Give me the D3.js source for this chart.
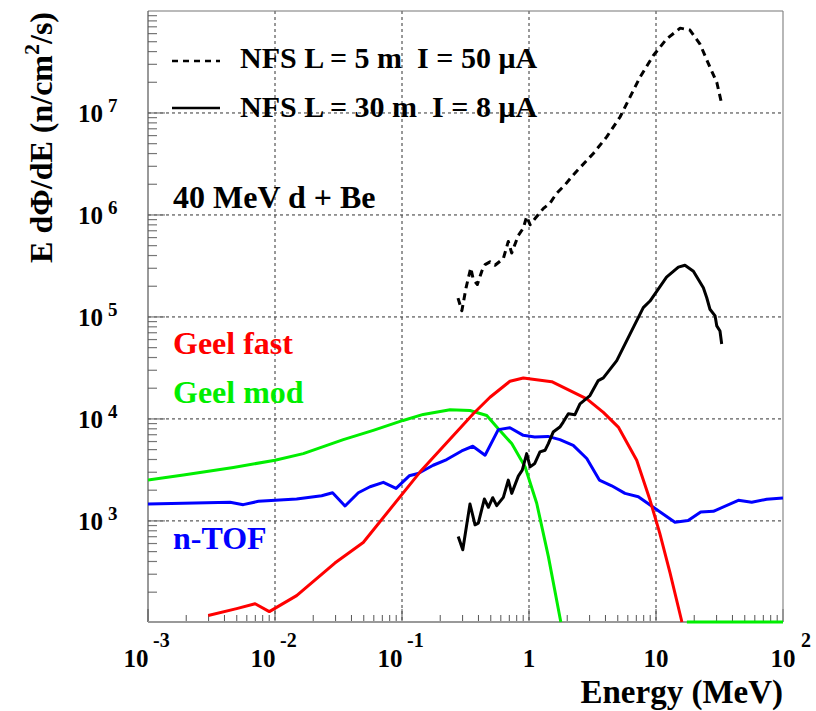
<!DOCTYPE html>
<html>
<head>
	<title> neutron spectra </title>
	<script src="https://d3js.org/d3.v7.min.js"></script>
	<style>
		body { margin: 0; background: #fff; }
		text { font-family: "Liberation Serif", "Times New Roman", serif; font-weight: bold; }
	</style>
</head>
<body>
	<svg width="816" height="711"></svg>
	<script type="text/javascript">
		// x tick labels (base + exponent)
		let xTicks = [1e-3, 1e-2, 1e-1, 1, 10, 100];
		let xTickBase = ["10", "10", "10", "1", "10", "10"];
		let xTickSup = ["-3", "-2", "-1", "", "", "2"];
		let yTicks = [1e3, 1e4, 1e5, 1e6, 1e7];
		let yTickSup = ["3", "4", "5", "6", "7"];

		// NFS L = 5 m (dashed)
		let nfs5E = [0.276, 0.296, 0.319, 0.348, 0.364, 0.392, 0.425, 0.451, 0.493, 0.540, 0.628, 0.687, 0.731, 0.824, 0.902, 0.959, 1.02, 1.15, 1.30, 1.46, 1.65, 1.92, 2.23, 3.21, 4.09, 5.21, 6.24, 7.48, 9.53, 12.1, 15.5, 18.5, 22.2, 26.6, 30.1, 32.9];
		let nfs5Flux = [1.53e5, 1.15e5, 1.92e5, 3.03e5, 2.33e5, 2.08e5, 2.81e5, 3.26e5, 3.47e5, 3.21e5, 3.74e5, 5.5e5, 4.24e5, 6.31e5, 7.43e5, 9.66e5, 8.01e5, 9.66e5, 1.16e6, 1.30e6, 1.63e6, 1.97e6, 2.47e6, 4.01e6, 5.83e6, 9.14e6, 1.43e7, 2.24e7, 3.66e7, 5.31e7, 6.79e7, 6.5e7, 4.74e7, 2.81e7, 2.0e7, 1.23e7];

		// NFS L = 30 m (solid)
		let nfs30E = [0.277, 0.301, 0.343, 0.376, 0.399, 0.445, 0.479, 0.518, 0.557, 0.628, 0.687, 0.731, 0.824, 0.885, 0.959, 1.02, 1.11, 1.22, 1.34, 1.42, 1.55, 1.75, 1.86, 2.04, 2.30, 2.52, 3.02, 3.51, 3.85, 4.91, 6.24, 7.94, 8.97, 12.1, 15.0, 16.9, 19.7, 23.6, 25.1, 26.6, 29.2, 30.1, 31.9, 32.9];
		let nfs30Flux = [703, 521, 1465, 915, 950, 1640, 1360, 1688, 1410, 1703, 2512, 1862, 2748, 3148, 4571, 3388, 3656, 4745, 4932, 5730, 7430, 8320, 9310, 11250, 10990, 14060, 16940, 23770, 25240, 37240, 67740, 123300, 143200, 245500, 307600, 321400, 281200, 193200, 154300, 118900, 102400, 81700, 72900, 54200];

		// Geel fast (red)
		let geelFastE = [0.00298, 0.00499, 0.00697, 0.00902, 0.0148, 0.0296, 0.0495, 0.139, 0.364, 0.493, 0.708, 0.902, 1.51, 2.85, 3.85, 5.05, 7.05, 8.97, 10.7, 12.9, 16.0];
		let geelFastFlux = [118, 138, 154, 129, 185, 386, 614, 3027, 11250, 16300, 23400, 25200, 23200, 15700, 11600, 8320, 3935, 1600, 759, 309, 60];

		// Geel mod (green); null = no point
		let geelModE = [0.001, 0.0019, 0.0047, 0.01, 0.0167, 0.0345, 0.0594, 0.102, 0.147, 0.239, 0.343, 0.465, 0.573, 0.731, 0.931, 1.15, 1.42, 1.78, 5, 17.5, 100];
		let geelModFlux = [2512, 2812, 3342, 3935, 4571, 6266, 7727, 9660, 11070, 12300, 12100, 10800, 8020, 5730, 3390, 1489, 449, 90, null, 50, 50];

		// n-TOF (blue)
		let ntofE = [0.001, 0.00443, 0.00562, 0.0074, 0.0148, 0.0233, 0.0284, 0.0356, 0.0453, 0.056, 0.0713, 0.0898, 0.114, 0.134, 0.176, 0.225, 0.295, 0.361, 0.451, 0.573, 0.708, 0.902, 1.11, 1.41, 1.75, 2.23, 2.85, 3.58, 4.48, 5.70, 7.26, 9.53, 14.1, 17.9, 22.5, 28.3, 44.5, 56.7, 74.4, 100];
		let ntofFlux = [1465, 1521, 1443, 1556, 1640, 1766, 1888, 1400, 1888, 2163, 2388, 2085, 2768, 2919, 3513, 3998, 4853, 5395, 4404, 7850, 8200, 6900, 6640, 6740, 6270, 5510, 4090, 2512, 2210, 1862, 1727, 1360, 971, 1007, 1224, 1243, 1592, 1521, 1629, 1676];

		let svg = d3.select("svg");
		let pL = 148, pR = 783, pT = 11, pB = 622;

		let x = d3.scaleLog().domain([1e-3, 100]).range([pL, pR]);
		let y = d3.scaleLog().domain([102, 1e8]).range([pB, pT]).clamp(true);

		svg.append("clipPath").attr("id", "plot")
			.append("rect").attr("x", pL).attr("y", pT - 2)
			.attr("width", pR - pL).attr("height", pB - pT + 4);

		// grid
		svg.append("g").selectAll("line").data(xTicks.slice(1, -1)).join("line")
			.attr("x1", d => x(d)).attr("x2", d => x(d))
			.attr("y1", pT).attr("y2", pB)
			.attr("stroke", "#333").attr("stroke-width", 1).attr("stroke-dasharray", "3,3");
		svg.append("g").selectAll("line").data(yTicks).join("line")
			.attr("x1", pL).attr("x2", pR)
			.attr("y1", d => y(d)).attr("y2", d => y(d))
			.attr("stroke", "#333").attr("stroke-width", 1).attr("stroke-dasharray", "3,3");

		// minor ticks
		let xMinor = [], yMinor = [];
		for (let p = -3; p < 2; p++) for (let m = 2; m < 10; m++) xMinor.push(m * Math.pow(10, p));
		for (let p = 2; p < 8; p++) for (let m = 2; m < 10; m++) if (m * Math.pow(10, p) > 102) yMinor.push(m * Math.pow(10, p));

		svg.append("g").selectAll("line").data(xMinor).join("line")
			.attr("x1", d => x(d)).attr("x2", d => x(d))
			.attr("y1", pB).attr("y2", pB - 7)
			.attr("stroke", "#555").attr("stroke-width", 1);
		svg.append("g").selectAll("line").data(xTicks).join("line")
			.attr("x1", d => x(d)).attr("x2", d => x(d))
			.attr("y1", pB).attr("y2", pB - 13)
			.attr("stroke", "#555").attr("stroke-width", 1);
		svg.append("g").selectAll("line").data(yMinor).join("line")
			.attr("x1", pL).attr("x2", pL + 9)
			.attr("y1", d => y(d)).attr("y2", d => y(d))
			.attr("stroke", "#777").attr("stroke-width", 1.2);
		svg.append("g").selectAll("line").data(yTicks).join("line")
			.attr("x1", pL).attr("x2", pL + 17)
			.attr("y1", d => y(d)).attr("y2", d => y(d))
			.attr("stroke", "#777").attr("stroke-width", 1.2);

		// frame
		svg.append("line").attr("x1", pL).attr("x2", pR).attr("y1", pT).attr("y2", pT).attr("stroke", "#777").attr("stroke-width", 1.2);
		svg.append("line").attr("x1", pR).attr("x2", pR).attr("y1", pT).attr("y2", pB).attr("stroke", "#888").attr("stroke-width", 1.2);
		svg.append("line").attr("x1", pL).attr("x2", pL).attr("y1", pT).attr("y2", pB).attr("stroke", "#555").attr("stroke-width", 1.2);
		svg.append("line").attr("x1", pL).attr("x2", pR).attr("y1", pB).attr("y2", pB).attr("stroke", "#999").attr("stroke-width", 2);

		// tick labels
		let xl = svg.append("g").selectAll("g").data(xTicks).join("g");
		xl.append("text")
			.attr("x", (d, i) => x(d) + (xTickSup[i].startsWith("-") ? -12 : 0))
			.attr("y", 667).attr("text-anchor", "middle").attr("font-size", 25)
			.text((d, i) => xTickBase[i]);
		xl.append("text")
			.attr("x", (d, i) => x(d) + (xTickSup[i].startsWith("-") ? 5 : 18))
			.attr("y", 647).attr("font-size", 20)
			.text((d, i) => xTickSup[i]);

		let yl = svg.append("g").selectAll("g").data(yTicks).join("g");
		yl.append("text")
			.attr("x", 103).attr("y", d => y(d) + 9)
			.attr("text-anchor", "end").attr("font-size", 25)
			.text("10");
		yl.append("text")
			.attr("x", 108).attr("y", d => y(d) - 1)
			.attr("font-size", 19)
			.text((d, i) => yTickSup[i]);

		// axis titles
		svg.append("text").attr("x", 783).attr("y", 703).attr("text-anchor", "end")
			.attr("font-size", 33).text("Energy (MeV)");
		let yt = svg.append("text").attr("transform", "translate(52,12) rotate(-90)")
			.attr("text-anchor", "end").attr("font-size", 32);
		yt.append("tspan").text("E d\u03A6/dE (n/cm");
		yt.append("tspan").attr("font-size", 22).attr("dy", -13).text("2");
		yt.append("tspan").attr("dy", 13).text("/s)");

		// curves
		let curves = svg.append("g").attr("clip-path", "url(#plot)");
		function draw_curve(es, vs, color, dash)
		{
			let pts = es.map((e, i) => [e, vs[i]]);
			curves.append("path").datum(pts)
				.attr("fill", "none")
				.attr("stroke", color)
				.attr("stroke-width", 3)
				.attr("stroke-linejoin", "round")
				.attr("stroke-dasharray", dash)
				.attr("d", d3.line()
					.defined(d => d[1] != null)
					.x(d => x(d[0]))
					.y(d => y(d[1])));
		}
		draw_curve(geelModE, geelModFlux, "#00ee00", null);
		draw_curve(ntofE, ntofFlux, "#0000ff", null);
		draw_curve(geelFastE, geelFastFlux, "#ff0000", null);
		draw_curve(nfs30E, nfs30Flux, "#000", null);
		draw_curve(nfs5E, nfs5Flux, "#000", "7,5");

		// legend
		svg.append("line").attr("x1", 172).attr("x2", 220).attr("y1", 61).attr("y2", 61)
			.attr("stroke", "#000").attr("stroke-width", 2.5).attr("stroke-dasharray", "6,5");
		svg.append("line").attr("x1", 172).attr("x2", 220).attr("y1", 108).attr("y2", 108)
			.attr("stroke", "#000").attr("stroke-width", 2.5);
		svg.append("text").attr("x", 240).attr("y", 68).attr("font-size", 30)
			.style("white-space", "pre").text("NFS L = 5 m  I = 50 \u03BCA");
		svg.append("text").attr("x", 240).attr("y", 117).attr("font-size", 30)
			.style("white-space", "pre").text("NFS L = 30 m  I = 8 \u03BCA");
		svg.append("text").attr("x", 173).attr("y", 208).attr("font-size", 32).text("40 MeV d + Be");

		svg.append("text").attr("x", 173).attr("y", 354).attr("font-size", 32).attr("fill", "#ff0000").text("Geel fast");
		svg.append("text").attr("x", 173).attr("y", 403).attr("font-size", 32).attr("fill", "#00ee00").text("Geel mod");
		svg.append("text").attr("x", 173).attr("y", 549).attr("font-size", 32).attr("fill", "#0000ff").text("n-TOF");
	</script>
</body>
</html>
